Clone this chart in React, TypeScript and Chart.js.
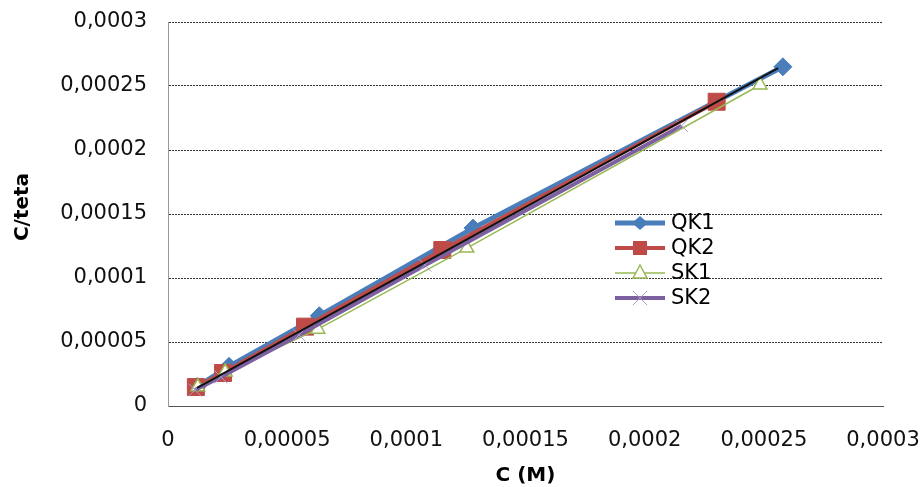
import React, { useEffect, useRef } from "react";
import { Chart, registerables } from "chart.js";

Chart.register(...registerables);

// ---- data ----
const qk1C = [1.22e-5, 2.56e-5, 6.35e-5, 1.28e-4, 2.58e-4];
const qk1Y = [1.52e-5, 3.1e-5, 7.05e-5, 1.39e-4, 2.65e-4];

const qk2C = [1.17e-5, 2.31e-5, 5.75e-5, 1.151e-4, 2.302e-4];
const qk2Y = [1.48e-5, 2.58e-5, 6.2e-5, 1.219e-4, 2.377e-4];

const sk1C = [1.25e-5, 2.4e-5, 6.29e-5, 1.254e-4, 2.484e-4];
const sk1Y = [1.5e-5, 2.65e-5, 6.0e-5, 1.234e-4, 2.508e-4];

const sk2C = [1.13e-5, 2.22e-5, 5.5e-5, 1.078e-4, 2.155e-4];
const sk2Y = [1.25e-5, 2.27e-5, 5.55e-5, 1.1e-4, 2.19e-4];

const trendC = [1.22e-5, 2.56e-4];
const trendY = [1.41e-5, 2.64e-4];

const seriesNames = ["QK1", "QK2", "SK1", "SK2"];
const axisMin = 0;
const axisMax = 0.0003;
const axisStep = 0.00005;
const xTitle = "C (M)";
const yTitle = "C/teta";

const pts = (xs: number[], ys: number[]) => xs.map((x, i) => ({ x, y: ys[i] }));

const fmt = (v: number) => {
  if (Math.abs(v) < 1e-12) return "0";
  return String(+v.toFixed(6)).replace(".", ",");
};

const FONT = "'DejaVu Sans', sans-serif";

const styles = [
  { color: "#4a7ebb", width: 5, point: "rectRot", r: 9, bg: "#4a7ebb", pb: "#4a7ebb", pbw: 1 },
  { color: "#be4b48", width: 4, point: "rect", r: 12, bg: "#be4b48", pb: "#be4b48", pbw: 1 },
  { color: "#98b954", width: 1.5, point: "triangle", r: 8, bg: "#ffffff", pb: "#98b954", pbw: 1.5 },
  { color: "#7d60a0", width: 4, point: "crossRot", r: 9, bg: "#a89ccb", pb: "#a89ccb", pbw: 1 },
];

const overlayPlugin = {
  id: "overlay",
  afterDraw(chart: any) {
    const ctx = chart.ctx as CanvasRenderingContext2D;
    const area = chart.chartArea;
    ctx.save();
    // axis titles
    ctx.fillStyle = "#000";
    ctx.font = `bold 20px ${FONT}`;
    ctx.textAlign = "center";
    ctx.textBaseline = "middle";
    ctx.fillText(xTitle, (area.left + area.right) / 2, 476);
    ctx.save();
    ctx.translate(23, 207);
    ctx.rotate(-Math.PI / 2);
    ctx.font = `bold 20px ${FONT}`;
    ctx.fillText(yTitle, 0, 0);
    ctx.restore();

    // legend
    const rows = [223, 248, 273, 298];
    const x0 = 615;
    const x1 = 665;
    const xm = (x0 + x1) / 2;
    seriesNames.forEach((name, i) => {
      const s = styles[i];
      const y = rows[i];
      ctx.strokeStyle = s.color;
      ctx.lineWidth = s.width;
      ctx.beginPath();
      ctx.moveTo(x0, y);
      ctx.lineTo(x1, y);
      ctx.stroke();
      ctx.fillStyle = s.bg;
      ctx.strokeStyle = s.pb;
      ctx.lineWidth = s.pbw;
      ctx.beginPath();
      if (s.point === "rectRot") {
        ctx.moveTo(xm, y - 7);
        ctx.lineTo(xm + 8, y);
        ctx.lineTo(xm, y + 7);
        ctx.lineTo(xm - 8, y);
        ctx.closePath();
        ctx.fill();
      } else if (s.point === "rect") {
        ctx.rect(xm - 7, y - 7, 14, 14);
        ctx.fill();
      } else if (s.point === "triangle") {
        ctx.moveTo(xm, y - 8);
        ctx.lineTo(xm + 7, y + 5);
        ctx.lineTo(xm - 7, y + 5);
        ctx.closePath();
        ctx.fill();
        ctx.stroke();
      } else {
        ctx.moveTo(xm - 7, y - 7);
        ctx.lineTo(xm + 7, y + 7);
        ctx.moveTo(xm + 7, y - 7);
        ctx.lineTo(xm - 7, y + 7);
        ctx.stroke();
      }
      ctx.fillStyle = "#000";
      ctx.font = `21px ${FONT}`;
      ctx.textAlign = "left";
      ctx.textBaseline = "middle";
      ctx.fillText(name, 671, y + 1);
    });
    ctx.restore();
  },
};

export default function App() {
  const ref = useRef<HTMLCanvasElement | null>(null);

  useEffect(() => {
    document.body.style.margin = "0";
    const canvas = ref.current;
    if (!canvas) return;
    const series = [pts(qk1C, qk1Y), pts(qk2C, qk2Y), pts(sk1C, sk1Y), pts(sk2C, sk2Y)];
    const datasets: any[] = series.map((data, i) => {
      const s = styles[i];
      return {
        label: seriesNames[i],
        data,
        showLine: true,
        borderColor: s.color,
        borderWidth: s.width,
        backgroundColor: s.bg,
        pointStyle: s.point,
        pointRadius: s.r,
        pointBackgroundColor: s.bg,
        pointBorderColor: s.pb,
        pointBorderWidth: s.pbw,
        order: 4 - i,
      };
    });
    datasets.push({
      label: "trend",
      data: pts(trendC, trendY),
      showLine: true,
      borderColor: "#111",
      borderWidth: 2,
      pointRadius: 0,
      order: 0,
    });

    const chart = new Chart(canvas, {
      type: "scatter",
      data: { datasets },
      options: {
        animation: false,
        responsive: true,
        maintainAspectRatio: false,
        layout: { padding: { top: 22, right: 37, left: 0, bottom: 0 } },
        plugins: {
          legend: { display: false },
          tooltip: { enabled: false },
        },
        scales: {
          x: {
            type: "linear",
            min: axisMin,
            max: axisMax,
            afterFit: (s: any) => {
              s.height = 81;
              s.paddingLeft = 0;
              s.paddingRight = 0;
            },
            ticks: {
              stepSize: axisStep,
              callback: (v: any) => fmt(Number(v)),
              font: { family: FONT, size: 21 },
              color: "#111",
              padding: 22,
              maxRotation: 0,
              autoSkip: false,
            },
            grid: { display: false, drawTicks: false },
            border: { display: true, color: "#555", width: 1 },
          },
          y: {
            type: "linear",
            min: axisMin,
            max: axisMax,
            afterFit: (s: any) => {
              s.width = 168;
              s.paddingTop = 0;
              s.paddingBottom = 0;
            },
            ticks: {
              stepSize: axisStep,
              callback: (v: any) => fmt(Number(v)),
              font: { family: FONT, size: 21 },
              color: "#111",
              padding: 21,
            },
            grid: { color: "#333", lineWidth: 1, drawTicks: false },
            border: { display: true, color: "#999", width: 1, dash: [2, 1] },
          },
        },
      } as any,
      plugins: [overlayPlugin],
    });
    return () => chart.destroy();
  }, []);

  return (
    <div style={{ position: "relative", width: 920, height: 487 }}>
      <canvas ref={ref} />
    </div>
  );
}
